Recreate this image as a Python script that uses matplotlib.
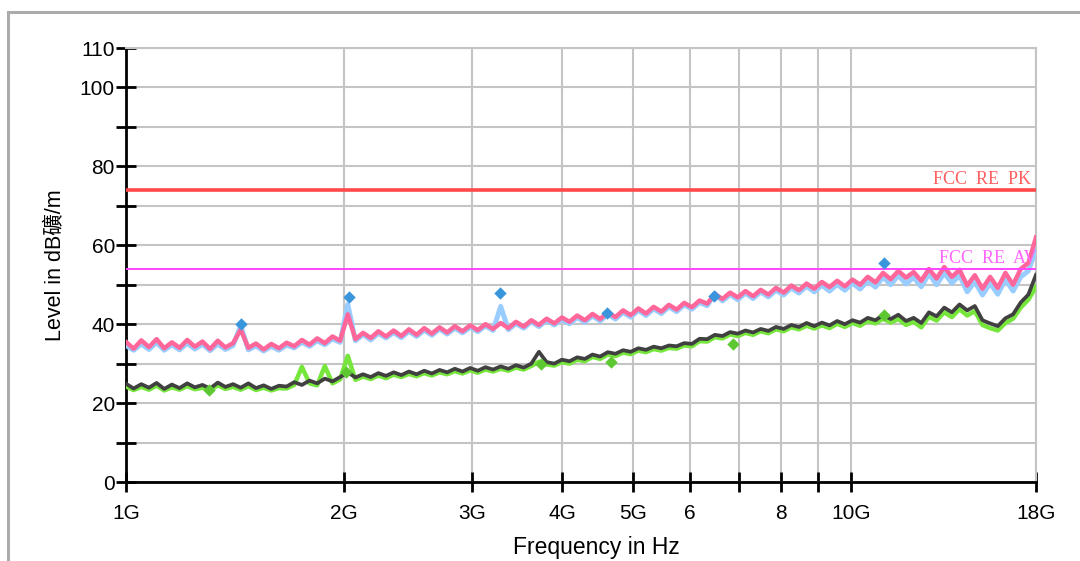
import numpy as np
import matplotlib
matplotlib.use('Agg')
import matplotlib.pyplot as plt
from matplotlib.patches import Rectangle


# ------- Data (120 samples per trace, 1G .. 18G)

# peak trace (pink)
peak_pink = [35.5, 33.8, 35.9, 34.2, 36.2, 33.9, 35.4, 34.0, 36.0, 34.3,
             35.6, 33.7, 35.8, 34.1, 35.2, 38.6, 34.0, 35.1, 33.6, 35.0,
             33.9, 35.3, 34.4, 36.0, 34.8, 36.4, 35.2, 36.9, 35.8, 42.5,
             36.2, 37.8, 36.5, 38.2, 36.9, 38.4, 37.0, 38.7, 37.3, 39.0,
             37.6, 39.2, 37.9, 39.5, 38.2, 39.7, 38.5, 40.0, 38.8, 40.3,
             39.0, 40.6, 39.4, 41.0, 39.8, 41.4, 40.2, 41.7, 40.6, 42.2,
             41.0, 42.6, 41.3, 43.0, 41.8, 43.5, 42.3, 44.0, 42.7, 44.4,
             43.2, 44.9, 43.7, 45.4, 44.3, 46.0, 45.2, 47.6, 46.4, 48.0,
             46.8, 48.4, 47.1, 48.7, 47.5, 49.2, 48.0, 49.8, 48.6, 50.3,
             49.0, 50.7, 49.4, 51.0, 49.6, 51.3, 50.0, 52.0, 50.6, 53.0,
             51.4, 53.5, 51.8, 53.2, 51.0, 54.0, 51.6, 54.5, 52.0, 53.8,
             49.8, 52.4, 49.0, 52.0, 49.2, 53.0, 50.0, 54.0, 55.5, 62.0]

# second peak trace (light blue)
peak_blue = [34.6, 33.4, 35.0, 33.6, 35.4, 33.4, 34.8, 33.5, 35.2, 33.7,
             34.9, 33.3, 35.0, 33.6, 34.6, 39.6, 33.5, 34.5, 33.2, 34.4,
             33.4, 34.7, 34.0, 35.4, 34.4, 35.8, 34.8, 36.3, 35.4, 45.0,
             35.8, 37.4, 36.0, 37.7, 36.5, 37.9, 36.6, 38.2, 36.9, 38.5,
             37.2, 38.8, 37.5, 39.0, 37.8, 39.2, 38.1, 39.6, 38.4, 44.5,
             38.6, 40.2, 39.0, 40.6, 39.4, 41.0, 39.8, 41.2, 40.1, 41.7,
             40.5, 42.1, 40.8, 42.5, 41.3, 43.0, 41.8, 43.5, 42.2, 43.9,
             42.7, 44.4, 43.2, 44.9, 43.8, 45.5, 44.7, 47.8, 45.9, 47.5,
             46.2, 47.9, 46.5, 48.2, 46.9, 48.6, 47.4, 49.2, 47.9, 49.6,
             48.2, 49.9, 48.4, 50.1, 48.6, 50.4, 48.9, 51.0, 49.4, 52.0,
             50.0, 52.4, 50.2, 51.9, 49.5, 52.8, 50.0, 53.0, 50.4, 52.4,
             48.2, 50.8, 47.4, 50.4, 47.6, 51.4, 48.4, 52.0, 53.5, 59.0]

# average trace (dark gray)
avg_gray = [24.9, 23.7, 24.8, 23.9, 25.1, 23.6, 24.7, 23.8, 25.0, 24.0,
            24.6, 23.7, 25.2, 24.1, 24.8, 23.9, 25.0, 23.8, 24.5, 23.6,
            24.4, 24.2, 25.3, 24.6, 25.7, 25.0, 26.2, 25.5, 26.6, 27.8,
            26.5, 27.3, 26.6, 27.6, 26.9, 27.8, 27.1, 28.0, 27.3, 28.2,
            27.5, 28.4, 27.8, 28.7, 28.0, 28.9, 28.2, 29.1, 28.5, 29.3,
            28.7, 29.6, 29.0, 30.0, 33.0, 30.4, 30.0, 31.0, 30.6, 31.6,
            31.2, 32.3, 31.8, 32.9, 32.5, 33.4, 33.0, 33.9, 33.5, 34.3,
            33.9, 34.6, 34.4, 35.2, 35.0, 36.3, 36.2, 37.3, 37.0, 38.0,
            37.6, 38.4, 37.9, 38.8, 38.3, 39.3, 38.8, 39.8, 39.3, 40.3,
            39.5, 40.4, 39.7, 40.8, 40.0, 41.0, 40.4, 41.6, 41.0, 42.3,
            41.3, 42.4, 40.8, 41.6, 40.3, 43.0, 42.0, 44.2, 43.0, 45.0,
            43.5, 44.6, 41.0, 40.2, 39.5, 41.5, 42.5, 45.5, 47.5, 52.5]

# second average trace (green)
avg_green = [24.2, 23.3, 24.1, 23.4, 24.4, 23.2, 24.0, 23.4, 24.3, 23.5,
             23.9, 23.3, 24.5, 23.6, 24.1, 23.4, 24.3, 23.3, 23.9, 23.2,
             23.8, 23.7, 24.6, 29.2, 25.0, 24.5, 29.4, 25.0, 26.0, 32.0,
             25.9, 26.7, 26.1, 27.0, 26.3, 27.2, 26.6, 27.4, 26.8, 27.6,
             27.0, 27.8, 27.3, 28.1, 27.5, 28.3, 27.7, 28.5, 28.0, 28.7,
             28.2, 29.0, 28.5, 29.4, 30.5, 29.8, 29.5, 30.4, 30.0, 31.0,
             30.6, 31.7, 31.2, 32.3, 31.9, 32.8, 32.4, 33.3, 32.9, 33.7,
             33.3, 34.0, 33.8, 34.6, 34.4, 35.7, 35.6, 36.7, 36.4, 37.4,
             37.0, 37.8, 37.3, 38.2, 37.7, 38.7, 38.2, 39.2, 38.7, 39.6,
             38.9, 39.7, 39.0, 40.1, 39.3, 40.3, 39.6, 40.8, 40.2, 41.4,
             40.4, 41.3, 39.8, 40.6, 39.2, 41.9, 40.9, 43.0, 41.8, 43.8,
             42.2, 43.3, 39.8, 39.0, 38.4, 40.3, 41.4, 44.2, 46.2, 49.5]

# final measurement points
peak_marker_freq = [1.44e9, 2.03e9, 3.28e9, 4.61e9, 6.47e9, 11.1e9]
peak_marker_level = [40.0, 46.9, 47.9, 42.8, 47.1, 55.5]
avg_marker_freq = [1.30e9, 2.01e9, 3.74e9, 4.66e9, 6.88e9, 11.1e9]
avg_marker_level = [23.3, 27.9, 29.9, 30.4, 35.0, 42.3]

# limit lines
limit_pk = 74.0
limit_av = 54.0

x_ticks = [1e9, 2e9, 3e9, 4e9, 5e9, 6e9, 7e9, 8e9, 9e9, 10e9, 18e9]
x_labels = ['1G', '2G', '3G', '4G', '5G', '6', '', '8', '', '10G', '18G']
y_ticks = list(range(0, 111, 10))
y_labels = ['0', '', '20', '', '40', '', '60', '', '80', '', '100', '110']


def main():
    plt.rcParams['font.family'] = ['Liberation Sans', 'Noto Sans CJK SC', 'DejaVu Sans']

    fig = plt.figure(figsize=(10.8, 5.61), dpi=100)
    ax = fig.add_axes([126 / 1080, 1 - 482 / 561, 910 / 1080, 434 / 561])

    # outer frame
    fig.patches.append(Rectangle((8 / 1080, -0.05), 1.1, 0.05 + 1 - 12 / 561,
                                 transform=fig.transFigure, fill=False,
                                 edgecolor='#ababab', linewidth=2.2))

    freq = np.geomspace(1e9, 18e9, len(peak_pink))

    ax.plot(freq, peak_blue, color='#99ccff', lw=3.6, zorder=3)
    ax.plot(freq, peak_pink, color='#ff6699', lw=3.2, zorder=4)
    ax.plot(freq, avg_green, color='#77e63c', lw=3.2, zorder=3)
    ax.plot(freq, avg_gray, color='#404040', lw=2.7, zorder=4)

    ax.scatter(peak_marker_freq, peak_marker_level, marker='D', s=40,
               color='#3a96dc', zorder=6, linewidths=0)
    ax.scatter(avg_marker_freq, avg_marker_level, marker='D', s=40,
               color='#5ec832', zorder=6, linewidths=0)

    ax.axhline(limit_pk, color='#ff4848', lw=2.6, zorder=5)
    ax.axhline(limit_av, color='#ff44ff', lw=1.4, zorder=5)
    ax.text(17.7e9, limit_pk + 0.6, 'FCC  RE  PK', color='#ff6060',
            family='Liberation Serif', fontsize=13, ha='right', va='bottom', zorder=7)
    ax.text(18.05e9, limit_av + 0.6, 'FCC  RE  AV', color='#ff66ff',
            family='Liberation Serif', fontsize=13, ha='right', va='bottom', zorder=7,
            clip_on=True)

    ax.set_xscale('log')
    ax.set_xlim(1e9, 18e9)
    ax.set_ylim(0, 110)
    ax.set_xticks(x_ticks)
    ax.set_xticklabels(x_labels)
    ax.xaxis.set_minor_locator(matplotlib.ticker.NullLocator())
    ax.set_yticks(y_ticks)
    ax.set_yticklabels(y_labels)

    ax.grid(True, color='#c4c4c4', lw=1.5)
    ax.set_axisbelow(True)
    for side in ['top', 'right']:
        ax.spines[side].set_color('#c4c4c4')
        ax.spines[side].set_linewidth(1.5)
    for side in ['left', 'bottom']:
        ax.spines[side].set_color('black')
        ax.spines[side].set_linewidth(2)

    ax.tick_params(axis='both', direction='inout', length=14, width=2,
                   labelsize=15, colors='black')
    ax.tick_params(axis='x', pad=9)
    ax.tick_params(axis='y', pad=1)

    ax.set_xlabel('Frequency in Hz', fontsize=16.5)
    ax.xaxis.set_label_coords((596 - 126) / 910, -0.125)
    ax.set_ylabel('Level in dB礦/m', fontsize=15.5, labelpad=10)

    plt.savefig('out.png', dpi=100)


if __name__ == "__main__":
    main()
